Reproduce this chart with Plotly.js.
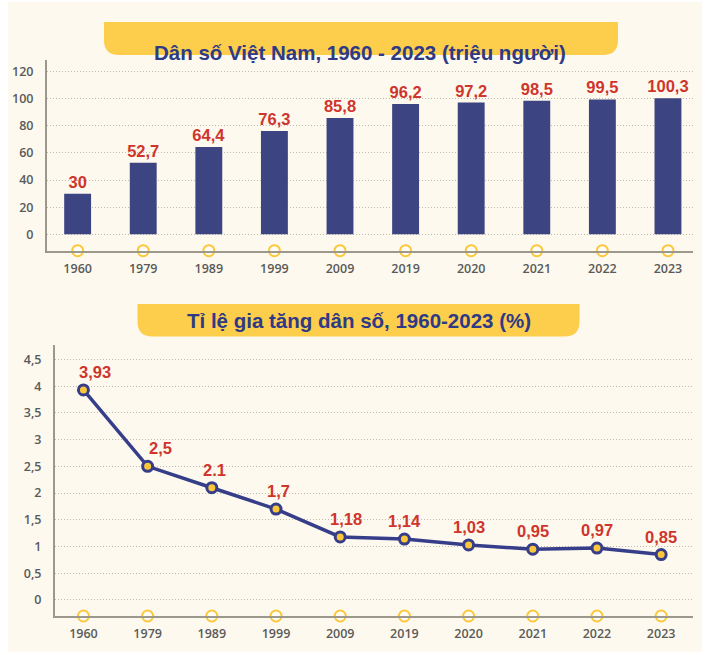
<!DOCTYPE html>
<html>
<head>
<meta charset="utf-8">
<script src="https://cdn.plot.ly/plotly-3.0.1.min.js"></script>
<style>
  html, body { margin: 0; padding: 0; background: #ffffff; }
  #chart { width: 707px; height: 655px; }
</style>
</head>
<body>
<div id="chart"></div>
<script>
// ---- data ----
const years = ['1960', '1979', '1989', '1999', '2009', '2019', '2020', '2021', '2022', '2023'];
const population = [30, 52.7, 64.4, 76.3, 85.8, 96.2, 97.2, 98.5, 99.5, 100.3];
const populationLabels = ['30', '52,7', '64,4', '76,3', '85,8', '96,2', '97,2', '98,5', '99,5', '100,3'];
const growth = [3.93, 2.5, 2.1, 1.7, 1.18, 1.14, 1.03, 0.95, 0.97, 0.85];
const growthLabels = ['3,93', '2,5', '2.1', '1,7', '1,18', '1,14', '1,03', '0,95', '0,97', '0,85'];
const popTicks = [0, 20, 40, 60, 80, 100, 120];
const popTickLabels = ['0', '20', '40', '60', '80', '100', '120'];
const growthTicks = [0, 0.5, 1, 1.5, 2, 2.5, 3, 3.5, 4, 4.5];
const growthTickLabels = ['0', '0,5', '1', '1,5', '2', '2,5', '3', '3,5', '4', '4,5'];
const title1 = 'Dân số Việt Nam, 1960 - 2023 (triệu người)';
const title2 = 'Tỉ lệ gia tăng dân số, 1960-2023 (%)';

// ---- styles ----
const W = 707, H = 655;
const FONT = 'Liberation Sans, Arial, sans-serif';
const TICK_FONT = 'Open Sans, Liberation Sans, sans-serif';
const NAVY = '#3d4482';
const LINE_NAVY = '#363e8a';
const RED = '#cf352c';
const YELLOW = '#fdcd4c';
const CREAM = '#fdf9ee';
const AXIS = '#9c988c';
const GRID = '#bfbbae';
const TICK = '#5a5a5a';
const labelShiftX = [12, 13, 3, 2, 6, 0, 0, 0, 0, 0];

const popRange = [-12.1, 128.6];
const growthRange = [-0.3, 4.77];

const px = p => p / W;
const py = p => 1 - p / H;

function banner(x0, x1, y0, y1, r) {
  return 'M' + px(x0) + ',' + py(y0) +
    ' L' + px(x1) + ',' + py(y0) +
    ' L' + px(x1) + ',' + py(y1 - r) +
    ' Q' + px(x1) + ',' + py(y1) + ' ' + px(x1 - r) + ',' + py(y1) +
    ' L' + px(x0 + r) + ',' + py(y1) +
    ' Q' + px(x0) + ',' + py(y1) + ' ' + px(x0) + ',' + py(y1 - r) + ' Z';
}

const tickFont = { family: TICK_FONT, size: 12.5, color: TICK, weight: 600 };

const traces = [
  {
    type: 'bar', x: years, y: population, xaxis: 'x', yaxis: 'y',
    marker: { color: NAVY }, width: 0.41,
    text: populationLabels, textposition: 'outside', cliponaxis: false,
    constraintext: 'none',
    textfont: { family: FONT, size: 16.5, color: RED, weight: 'bold' },
    hoverinfo: 'skip'
  },
  {
    type: 'scatter', mode: 'markers', x: years, y: years.map(() => popRange[0]),
    xaxis: 'x', yaxis: 'y', cliponaxis: false, hoverinfo: 'skip',
    marker: { size: 11, color: '#fffdf7', line: { color: '#fdc73a', width: 2 } }
  },
  {
    type: 'scatter', mode: 'lines+markers', x: years, y: growth, xaxis: 'x2', yaxis: 'y2',
    cliponaxis: false, hoverinfo: 'skip',
    line: { color: LINE_NAVY, width: 3.5 },
    marker: { size: 10, color: '#fcc83a', line: { color: LINE_NAVY, width: 3 } }
  },
  {
    type: 'scatter', mode: 'markers', x: years, y: years.map(() => growthRange[0]),
    xaxis: 'x2', yaxis: 'y2', cliponaxis: false, hoverinfo: 'skip',
    marker: { size: 11, color: '#fffdf7', line: { color: '#fdc73a', width: 2 } }
  }
];

const annotations = [
  { text: title1, xref: 'paper', yref: 'paper', x: px(360), y: py(39), showarrow: false,
    font: { family: FONT, size: 20.5, color: '#2e3a86', weight: 'bold' } },
  { text: title2, xref: 'paper', yref: 'paper', x: px(359), y: py(320.5), showarrow: false,
    font: { family: FONT, size: 20.5, color: '#2e3a86', weight: 'bold' } }
].concat(growth.map((v, i) => ({
  x: i, y: v, xref: 'x2', yref: 'y2', text: growthLabels[i], showarrow: false,
  yshift: 18, xshift: labelShiftX[i],
  font: { family: FONT, size: 16.5, color: RED, weight: 'bold' }
})));

const shapes = [
  { type: 'rect', xref: 'paper', yref: 'paper', x0: px(8), x1: px(702), y0: py(652), y1: py(2),
    fillcolor: CREAM, line: { width: 0 }, layer: 'below' },
  { type: 'path', xref: 'paper', yref: 'paper', path: banner(104, 618, 22, 55, 15),
    fillcolor: YELLOW, line: { width: 0 }, layer: 'below' },
  { type: 'path', xref: 'paper', yref: 'paper', path: banner(137.5, 579.5, 304, 336.5, 15),
    fillcolor: YELLOW, line: { width: 0 }, layer: 'below' }
];

const layout = {
  width: W, height: H, autosize: false,
  margin: { l: 0, r: 0, t: 0, b: 0, pad: 0 },
  paper_bgcolor: '#ffffff', plot_bgcolor: 'rgba(0,0,0,0)',
  showlegend: false,
  font: { family: FONT },
  xaxis: {
    domain: [px(47), px(692.5)], anchor: 'y', type: 'category',
    range: [-0.467, 9.374], showgrid: false, zeroline: false,
    showline: true, linecolor: AXIS, linewidth: 2,
    ticks: '', ticklabelstandoff: 5, tickfont: tickFont, fixedrange: true
  },
  yaxis: {
    domain: [py(250.7), py(60)], anchor: 'x', range: popRange,
    tickvals: popTicks, ticktext: popTickLabels,
    showgrid: true, gridcolor: GRID, griddash: '1px,2px', gridwidth: 1,
    zeroline: false, showline: true, linecolor: AXIS, linewidth: 2,
    ticks: '', ticklabelstandoff: 9, tickfont: tickFont, fixedrange: true
  },
  xaxis2: {
    domain: [px(55), px(692.5)], anchor: 'y2', type: 'category',
    range: [-0.443, 9.488], showgrid: false, zeroline: false,
    showline: true, linecolor: AXIS, linewidth: 2,
    ticks: '', ticklabelstandoff: 5, tickfont: tickFont, fixedrange: true
  },
  yaxis2: {
    domain: [py(616), py(345)], anchor: 'x2', range: growthRange,
    tickvals: growthTicks, ticktext: growthTickLabels,
    showgrid: true, gridcolor: GRID, griddash: '1px,2px', gridwidth: 1,
    zeroline: false, showline: true, linecolor: AXIS, linewidth: 2,
    ticks: '', ticklabelstandoff: 9, tickfont: tickFont, fixedrange: true
  },
  shapes: shapes,
  annotations: annotations
};

Plotly.newPlot('chart', traces, layout, { displayModeBar: false, staticPlot: true });
</script>
</body>
</html>
